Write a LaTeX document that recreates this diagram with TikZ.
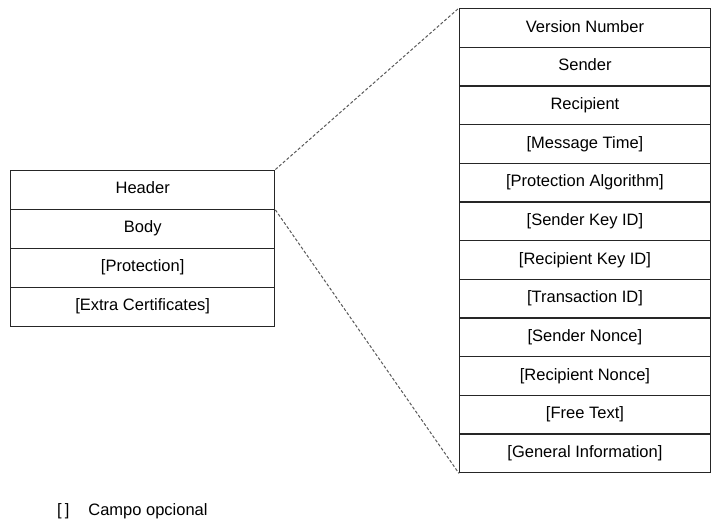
\documentclass[tikz,border=0pt]{standalone}
\usepackage{fontspec}
\setmainfont{Liberation Sans}
\begin{document}
\begin{tikzpicture}[x=1pt,y=-1pt,
  txt/.style={font=\fontsize{16.5}{18}\selectfont},
  cell/.style={txt,draw=black!85,line width=1.4pt,minimum width=264pt,minimum height=39pt,inner sep=0pt,text height=12pt,text depth=3.5pt,anchor=north west},
  rcell/.style={txt,draw=black!85,line width=1.4pt,minimum width=250.5pt,minimum height=38.67pt,inner sep=0pt,text height=12pt,text depth=3.5pt,anchor=north west},
  zoomline/.style={draw=black!65,line width=1pt,dash pattern=on 3pt off 2pt}]
\useasboundingbox (0,0) rectangle (712,525);
\fill[white] (0,0) rectangle (712,525);
% left box
\node[cell] (l1) at (10,169.5) {Header};
\node[cell] (l2) at (10,208.5) {Body};
\node[cell] (l3) at (10,247.5) {[Protection]};
\node[cell] (l4) at (10,286.5) {[Extra Certificates]};
% right box
\foreach \t [count=\i] in {Version Number,Sender,Recipient,[Message Time],[Protection Algorithm],[Sender Key ID],[Recipient Key ID],[Transaction ID],[Sender Nonce],[Recipient Nonce],[Free Text],[General Information]}{
  \node[rcell] (r\i) at (459,{8+(\i-1)*38.67}) {\t};
}
\draw[zoomline] (l1.north east) -- (r1.north west);
\draw[zoomline] (l1.south east) -- (r12.south west);
\node[txt,anchor=west,inner sep=0pt] (legend) at (57,511) {[\hspace{3pt}]\hspace{19pt}Campo opcional};
\end{tikzpicture}
\end{document}
